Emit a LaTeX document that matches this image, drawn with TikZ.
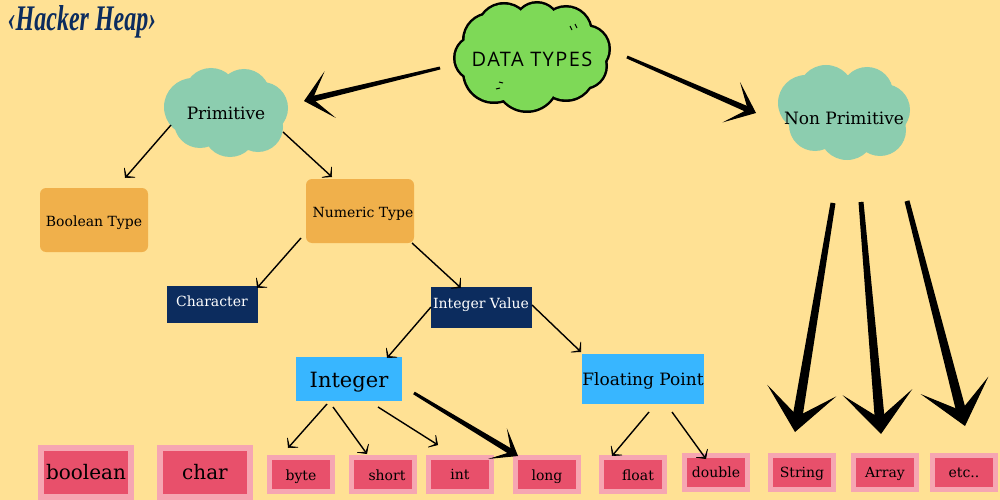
\documentclass[tikz,border=0pt]{standalone}
\usepackage{fontspec}
\usepackage{xcolor}
\usepackage{tikz}
\usetikzlibrary{arrows.meta, calc}
\setmainfont{DejaVu Serif}
\newfontfamily\logofont{Liberation Serif}
\newfontfamily\headfont[LetterSpace=7]{Open Sans}

\definecolor{paper}{HTML}{FFE194}
\definecolor{leaf}{HTML}{7ED957}
\definecolor{mint}{HTML}{8CCDAF}
\definecolor{amber}{HTML}{F0B04B}
\definecolor{navy}{HTML}{0C2C5E}
\definecolor{sky}{HTML}{38B6FF}
\definecolor{rosered}{HTML}{E8506B}
\definecolor{rosepale}{HTML}{F6A6B2}

\newcommand{\sized}[1]{\fontsize{#1}{#1}\selectfont}
\newcommand{\nudge}[2]{\raisebox{#1}[\height][\depth]{#2}}
\newcommand{\puffs}[3]{\foreach \cx/\cy/\cr in {#3} \fill[#1] (\cx,\cy) circle ({(\cr+#2)*1pt});}
% tapered body plus open head
\newcommand{\fatlink}[4]{
  \coordinate (linkfrom) at #2;
  \coordinate (linkto) at #3;
  \fill (linkfrom) to[taper={#1*0.25}{#1*0.5}] ($(linkto)!#1!(linkfrom)$);
  \draw[line width=1pt, -{Stealth[#4]}] (linkfrom) -- (linkto);
}

\tikzset{
  taper/.style 2 args={to path={
    ($(\tikztostart)!{#1}!90:(\tikztotarget)$) -- ($(\tikztotarget)!{#2}!-90:(\tikztostart)$) --
    ($(\tikztotarget)!{#2}!90:(\tikztostart)$) -- ($(\tikztostart)!{#1}!-90:(\tikztotarget)$) -- cycle}},
  ambertype/.style={fill=amber, rounded corners=6pt, inner sep=0pt, font=\sized{14}},
  navytype/.style={fill=navy, text=white, inner sep=0pt, font=\sized{14}},
  skytype/.style={fill=sky, inner sep=0pt},
  leaftype/.style={fill=rosered, draw=rosepale, line width=5pt, inner sep=0pt,
    minimum width=63pt, minimum height=34pt, font=\sized{14}},
  bigleaf/.style={leaftype, line width=6pt, minimum width=90pt, minimum height=49pt, font=\sized{20}},
  thinarrow/.style={line width=1.4pt, -{Stealth[length=10pt,inset=7.5pt,width=21pt,line width=0.8pt]}}
}

\begin{document}
\begin{tikzpicture}[x=1pt, y=-1pt]
  \useasboundingbox (0,0) rectangle (1000,500);
  \fill[paper] (0,0) rectangle (1000,500);

  % clouds
  \puffs{black}{0}{504/30/28, 537/25/24, 566/32/27, 586/49/25, 584/66/24, 566/72/30,
    527/80/33, 494/72/32, 477/58/24, 490/40/28, 530/55/40}
  \puffs{leaf}{-2.5}{504/30/28, 537/25/24, 566/32/27, 586/49/25, 584/66/24, 566/72/30,
    527/80/33, 494/72/32, 477/58/24, 490/40/28, 530/55/40}
  \puffs{mint}{0}{211/95/27, 244/95/26, 262/108/26, 258/127/25, 230/130/27, 200/122/26, 193/107/29, 226/112/36}
  \puffs{mint}{0}{826/93/28, 867/93/26, 884/110/26, 880/130/26, 847/132/28, 815/125/26, 806/103/28, 844/113/38}
  \draw[line width=1pt] (570,26) -- (572,30);
  \draw[line width=1pt] (575,24) -- (577,28);
  \draw[line width=1pt] (499,82) -- (503,83);
  \draw[line width=1pt] (496,89) -- (500,88);

  \node[navy, xscale=0.8, yscale=1.2, font=\logofont\bfseries\itshape\sized{30}] (logo) at (82,22) {‹Hacker Heap›};
  \node[font=\headfont\sized{20}] (datatypes) at (532,59) {DATA TYPES};
  \node[font=\sized{17}] (primitive) at (226,113) {Primitive};
  \node[font=\sized{17}] (nonprimitive) at (844,118) {Non Primitive};

  % middle boxes
  \node[ambertype, minimum width=108pt, minimum height=64pt] (boolean) at (94,220) {\nudge{-3pt}{Boolean Type}};
  \node[ambertype, minimum width=108pt, minimum height=64pt] (numeric) at (360,211) {\nudge{-3pt}{\hspace*{6pt}Numeric Type}};
  \node[navytype, minimum width=91pt, minimum height=37pt] (character) at (212,304) {\nudge{3pt}{Character}};
  \node[navytype, minimum width=101pt, minimum height=41pt] (intvalue) at (481,307) {\nudge{2pt}{Integer Value}};
  \node[skytype, minimum width=106pt, minimum height=44pt, font=\sized{21}] (integer) at (349,379) {\nudge{-3pt}{Integer}};
  \node[skytype, minimum width=121pt, minimum height=50pt, font=\sized{17}] (floating) at (643,379) {\nudge{-2pt}{Floating Point}};

  % bottom row
  \node[bigleaf] (boolkw) at (86,472) {boolean};
  \node[bigleaf] (charkw) at (205,472) {char};
  \node[leaftype] (bytekw) at (301,474) {\nudge{-3pt}{byte}};
  \node[leaftype] (shortkw) at (383,474) {\nudge{-1pt}{\hspace*{8pt}short}};
  \node[leaftype] (intkw) at (460,474) {int};
  \node[leaftype] (longkw) at (547,474) {\nudge{-3pt}{long}};
  \node[leaftype] (floatkw) at (633,474) {\nudge{-1pt}{\hspace*{10pt}float}};
  \node[leaftype] (doublekw) at (716,472) {double};
  \node[leaftype] (stringkw) at (802,472) {\nudge{-2pt}{String}};
  \node[leaftype] (arraykw) at (885,472) {\nudge{-2pt}{Array}};
  \node[leaftype] (etckw) at (964,472) {\nudge{-1pt}{etc..}};

  % connectors
  \fatlink{6pt}{($(datatypes.center)+(-92,9)$)}{($(primitive.center)+(78,-12)$)}{length=27pt,inset=18pt,width=48pt}
  \fatlink{6pt}{($(datatypes.center)+(95,-2)$)}{($(nonprimitive.center)+(-88,-5)$)}{length=27pt,inset=18pt,width=44pt}

  \draw[thinarrow] ([shift={(-55,12)}]primitive.center) -- ([shift={(31,-42)}]boolean.center);
  \draw[thinarrow] ([shift={(57,19)}]primitive.center) -- ([shift={(-28,-34)}]numeric.center);
  \draw[thinarrow] ([shift={(-59,27)}]numeric.center) -- ([shift={(45,-16)}]character.center);
  \draw[thinarrow] ([shift={(52,32)}]numeric.center) -- ([shift={(-20,-19)}]intvalue.center);
  \draw[thinarrow] ([shift={(-50,0)}]intvalue.center) -- ([shift={(38,-21)}]integer.center);
  \draw[thinarrow] ([shift={(51,-2)}]intvalue.center) -- ([shift={(-62,-27)}]floating.center);

  \draw[thinarrow] ([shift={(-22,25)}]integer.center) -- ([shift={(-13,-26)}]bytekw.center);
  \draw[thinarrow] ([shift={(-16,28)}]integer.center) -- ([shift={(-16,-20)}]shortkw.center);
  \draw[thinarrow] ([shift={(29,28)}]integer.center) -- ([shift={(-22,-29)}]intkw.center);
  \fatlink{6pt}{($(integer.center)+(65,14)$)}{($(longkw.center)+(-29,-18)$)}{length=24pt,inset=16pt,width=36pt}
  \draw[thinarrow] ([shift={(6,33)}]floating.center) -- ([shift={(-21,-18)}]floatkw.center);
  \draw[thinarrow] ([shift={(29,33)}]floating.center) -- ([shift={(-10,-13)}]doublekw.center);

  \fatlink{10pt}{($(nonprimitive.center)+(-11,85)$)}{($(stringkw.center)+(-7,-40)$)}{length=42pt,inset=26pt,width=70pt}
  \fatlink{10pt}{($(nonprimitive.center)+(17,84)$)}{($(arraykw.center)+(-4,-38)$)}{length=42pt,inset=26pt,width=70pt}
  \fatlink{10pt}{($(nonprimitive.center)+(63,83)$)}{($(etckw.center)+(1,-46)$)}{length=42pt,inset=26pt,width=70pt}
\end{tikzpicture}
\end{document}
